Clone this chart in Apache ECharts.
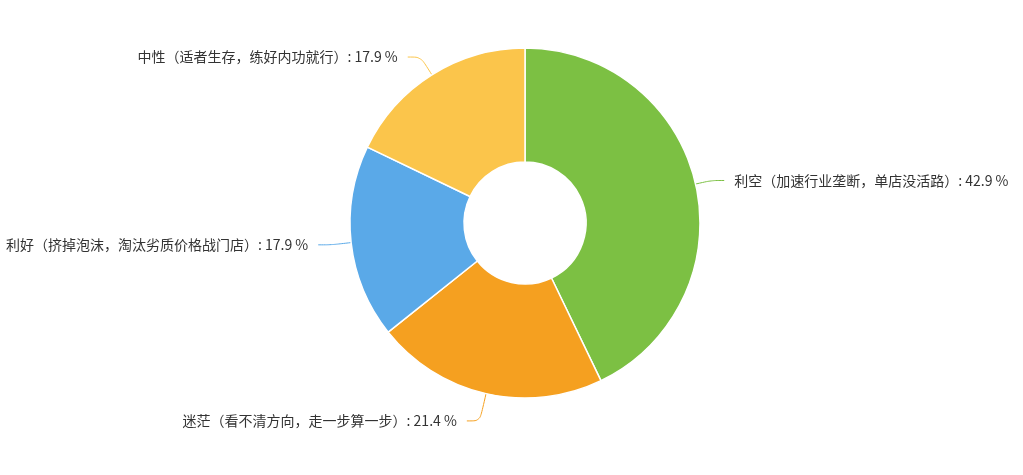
<!DOCTYPE html>
<html><head><meta charset="utf-8">
<script src="https://cdn.jsdelivr.net/npm/echarts@6/dist/echarts.min.js"></script>
<style>html,body{margin:0;padding:0;background:#fff}#c{width:1023px;height:475px}</style>
</head><body><div id="c"></div>
<script>
const categories = ['利空（加速行业垄断，单店没活路）','迷茫（看不清方向，走一步算一步）','利好（挤掉泡沫，淘汰劣质价格战门店）','中性（适者生存，练好内功就行）'];
const values = [12, 6, 5, 5];
const colors = ['#7cc043','#f5a020','#5aa9e8','#fbc54b'];
const lineLengths = [16, 28, 20, 21];
const total = values.reduce((a,b)=>a+b,0);
const chart = echarts.init(document.getElementById('c'));
chart.setOption({
  animation:false,
  series:[{
    type:'pie',
    center:[525,223],
    radius:[61,175],
    startAngle:90,
    itemStyle:{borderColor:'#fff',borderWidth:1.5},
    label:{formatter:p=>p.name+': '+(p.value/total*100).toFixed(1)+' %',color:'#333',fontSize:14,fontFamily:'Noto Sans CJK SC',distanceToLabelLine:10,overflow:'none',edgeDistance:0},
    labelLine:{length:18,length2:13,smooth:true},
    data:categories.map((c,i)=>({name:c,value:values[i],itemStyle:{color:colors[i]},labelLine:{length:lineLengths[i]}}))
  }]
});
</script></body></html>
